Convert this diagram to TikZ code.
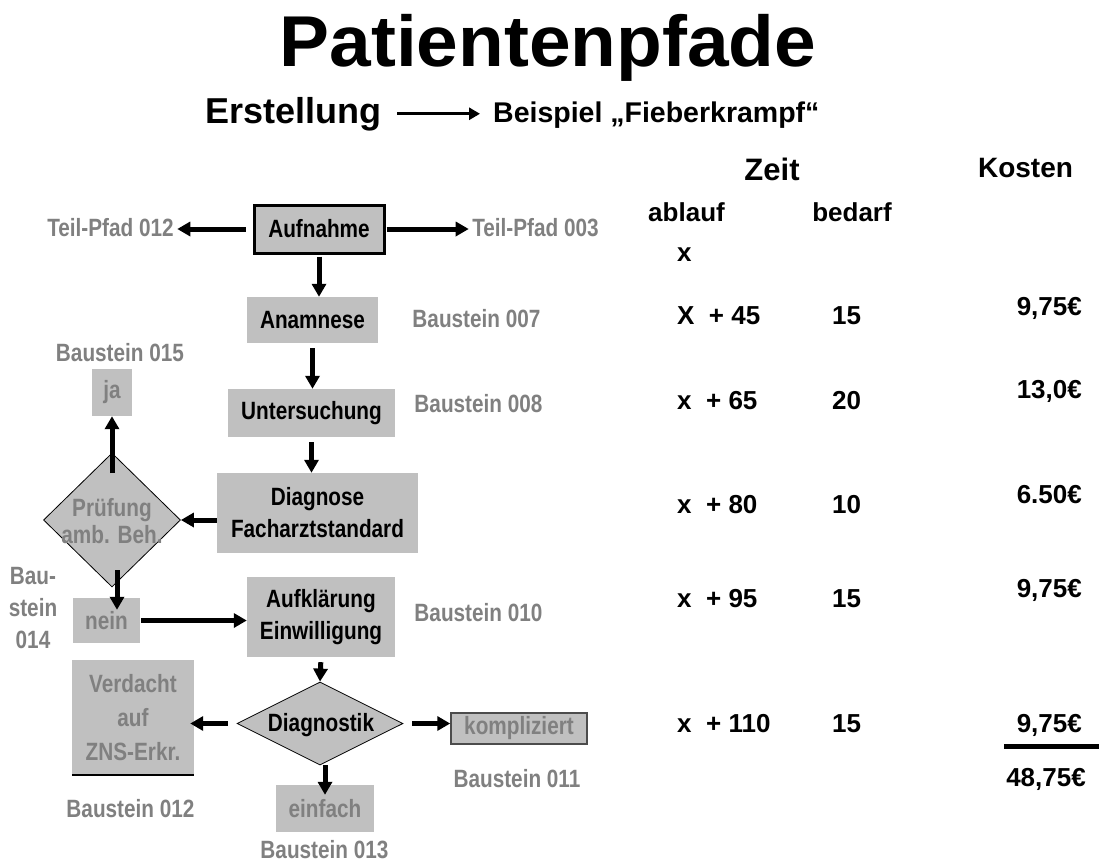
\documentclass[tikz,border=0pt]{standalone}
\usepackage{fontspec}
\setmainfont{Liberation Sans}
\newfontfamily\flowsf{Liberation Sans}[FakeStretch=0.83]
\newfontfamily\titlesf{Liberation Sans}[FakeStretch=1.04]
\usetikzlibrary{arrows.meta, positioning, shapes.geometric}
\definecolor{boxgray}{RGB}{192,192,192}
\definecolor{labelgray}{RGB}{128,128,128}
\tikzset{
  stepbox/.style={
    rectangle,
    fill=boxgray,
    inner sep=0pt,
    align=center,
    font=\flowsf\bfseries\fontsize{25}{32}\selectfont
  },
  startbox/.style={
    stepbox,
    draw,
    line width=3pt
  },
  decision/.style={
    diamond,
    draw,
    fill=boxgray,
    inner sep=0pt,
    line width=0.8pt
  },
  modlabel/.style={
    text=labelgray,
    align=center,
    font=\flowsf\bfseries\fontsize{25}{32}\selectfont
  },
  flowarrow/.style={
    -{Triangle[length=13pt,width=14pt]},
    line width=5pt
  },
  coltext/.style={
    anchor=base,
    font=\bfseries\fontsize{26}{30}\selectfont
  }
}

\begin{document}
\begin{tikzpicture}[x=1pt, y=-1pt]
  \useasboundingbox (0,0) rectangle (1099,862);

  % heading
  \node[anchor=base, font=\titlesf\bfseries\fontsize{72}{80}\selectfont] (title) at (548,66) {Patientenpfade};
  \node[anchor=base west, inner sep=0pt, font=\bfseries\fontsize{36}{40}\selectfont] (erst) at (205,123) {Erstellung};
  \node[anchor=base west, inner sep=0pt, font=\bfseries\fontsize{28.5}{32}\selectfont] (beisp) at (493,122) {Beispiel „Fieberkrampf“};
  \draw[-{Triangle[length=11pt,width=12pt]}, line width=3pt, shorten <=16pt, shorten >=13pt]
    (erst.east) -- (erst.east -| beisp.west);

  % flow
  \node[startbox, minimum width=130pt, minimum height=48pt] (aufnahme) at (319,229) {Aufnahme};
  \node[modlabel, anchor=base] (tp012) at (110.5,236) {Teil-Pfad 012};
  \node[modlabel, anchor=base] (tp003) at (535.5,236) {Teil-Pfad 003};
  \node[stepbox, minimum width=131pt, minimum height=46pt] (anamnese) at (312.5,320) {Anamnese};
  \node[modlabel, anchor=base] (b007) at (476.5,327) {Baustein 007};
  \node[stepbox, minimum width=167pt, minimum height=48pt] (unters) at (311.5,413) {Untersuchung};
  \node[modlabel, anchor=base] (b008) at (478.5,412) {Baustein 008};
  \node[stepbox, minimum width=201pt, minimum height=80pt] (diag) at (317.5,513) {Diagnose\\Facharztstandard};

  \node[decision, minimum width=137pt, minimum height=134pt] (pruef) at (112,520) {};
  \node[modlabel, font=\flowsf\bfseries\fontsize{25}{27}\selectfont] (pruefText) at (112,521) {Prüfung\\amb. Beh.};
  \node[stepbox, text=labelgray, minimum width=40pt, minimum height=47pt] (ja) at (112,392.5) {ja};
  \node[modlabel, anchor=base] (b015) at (120,361) {Baustein 015};
  \node[stepbox, text=labelgray, minimum width=67pt, minimum height=45pt] (nein) at (106.5,620.5) {nein};
  \node[modlabel] (b014) at (33,608) {Bau-\\stein\\014};

  \node[stepbox, minimum width=148pt, minimum height=80pt] (auf) at (321,617) {Aufklärung\\Einwilligung};
  \node[modlabel, anchor=base] (b010) at (478.5,621) {Baustein 010};

  \node[decision, minimum width=166pt, minimum height=83pt] (dgn) at (320,723.5) {};
  \node[stepbox, fill=none] (dgnText) at (321,725) {Diagnostik};
  \node[stepbox, text=labelgray, minimum width=122pt, minimum height=115pt,
        font=\flowsf\bfseries\fontsize{25}{34}\selectfont] (verd) at (133,717.5) {Verdacht\\auf\\ZNS-Erkr.};
  \node[stepbox, text=labelgray, draw=black!70, line width=1.5pt, minimum width=136pt, minimum height=31pt] (komp) at (519,728.5) {kompliziert};
  \node[stepbox, text=labelgray, minimum width=98pt, minimum height=47pt] (einf) at (325,808.5) {einfach};
  \node[modlabel, anchor=base] (b011) at (517,787) {Baustein 011};
  \node[modlabel, anchor=base] (b012) at (130.5,817) {Baustein 012};
  \node[modlabel, anchor=base] (b013) at (324.5,858) {Baustein 013};
  \draw[line width=2pt] (verd.south west) -- (verd.south east);

  \coordinate (jafoot) at (112,473);
  \coordinate (neinfoot) at (117,570);

  \draw[flowarrow, shorten <=7pt] (aufnahme.west) -- (aufnahme.west -| tp012.east);
  \draw[flowarrow, shorten <=1pt] (aufnahme.east) -- (aufnahme.east -| tp003.west);
  \draw[flowarrow, shorten <=2pt] (aufnahme.south) -- (aufnahme.south |- anamnese.north);
  \draw[flowarrow, shorten <=5pt] (anamnese.south) -- (anamnese.south |- unters.north);
  \draw[flowarrow, shorten <=5pt] (unters.south) -- (unters.south |- diag.north);
  \draw[flowarrow] (diag.west |- pruef.east) -- (pruef.east);
  \draw[flowarrow] (jafoot) -- (ja.south);
  \draw[flowarrow, shorten >=-12pt] (neinfoot) -- (neinfoot |- nein.north);
  \draw[flowarrow, shorten <=1pt] (nein.east) -- (nein.east -| auf.west);
  \draw[flowarrow, shorten <=5pt] (auf.south) -- (dgn.north);
  \draw[flowarrow, shorten <=9pt, shorten >=-4pt] (dgn.west) -- (dgn.west -| verd.east);
  \draw[flowarrow, shorten <=9pt] (dgn.east) -- (dgn.east -| komp.west);
  \draw[flowarrow, shorten >=-10pt] (dgn.south -| einf.north) -- (einf.north);

  % time and cost columns
  \node[coltext, font=\bfseries\fontsize{31}{34}\selectfont] (zeit) at (772,180) {Zeit};
  \node[coltext, font=\bfseries\fontsize{28}{32}\selectfont] (kosten) at (1025.5,177) {Kosten};
  \node[coltext] (ablauf) at (686.5,221) {ablauf};
  \node[coltext] (bedarf) at (852,221) {bedarf};
  \node[coltext, anchor=base west, inner sep=0pt] (t0) at (677,261) {x};

  \node[coltext, anchor=base west, inner sep=0pt] (t1) at (677,324) {X\ \ + 45};
  \node[coltext, anchor=base west, inner sep=0pt] (t2) at (677,409) {x\ \ + 65};
  \node[coltext, anchor=base west, inner sep=0pt] (t3) at (677,513) {x\ \ + 80};
  \node[coltext, anchor=base west, inner sep=0pt] (t4) at (677,607) {x\ \ + 95};
  \node[coltext, anchor=base west, inner sep=0pt] (t5) at (677,732) {x\ \ + 110};

  \node[coltext, anchor=base west, inner sep=0pt] (d1) at (832,324) {15};
  \node[coltext, anchor=base west, inner sep=0pt] (d2) at (832,409) {20};
  \node[coltext, anchor=base west, inner sep=0pt] (d3) at (832,513) {10};
  \node[coltext, anchor=base west, inner sep=0pt] (d4) at (832,607) {15};
  \node[coltext, anchor=base west, inner sep=0pt] (d5) at (832,732) {15};

  \node[coltext, anchor=base east, inner sep=0pt] (k1) at (1082,315) {9,75€};
  \node[coltext, anchor=base east, inner sep=0pt] (k2) at (1082,398) {13,0€};
  \node[coltext, anchor=base east, inner sep=0pt] (k3) at (1082,503) {6.50€};
  \node[coltext, anchor=base east, inner sep=0pt] (k4) at (1082,597) {9,75€};
  \node[coltext, anchor=base east, inner sep=0pt] (k5) at (1082,732) {9,75€};
  \node[coltext, anchor=base east, inner sep=0pt] (ksum) at (1086,786) {48,75€};
  \draw[line width=5pt] (1004,746) -- (1099,746);
\end{tikzpicture}
\end{document}
